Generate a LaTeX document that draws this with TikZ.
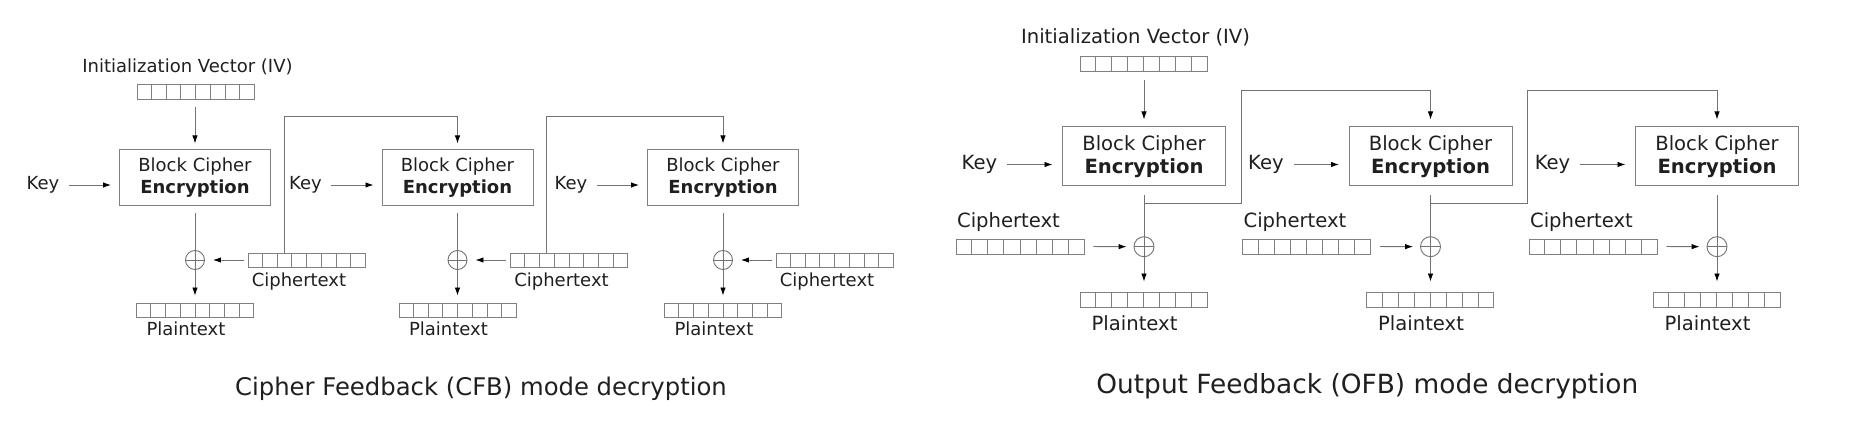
\documentclass[tikz,border=0pt]{standalone}
\usepackage{fontspec}
\setmainfont{DejaVu Sans}
\usetikzlibrary{arrows.meta,calc}
\tikzset{
  ln/.style={draw=black!55, line width=0.9pt},
  arr/.style={ln, -{Latex[length=8pt,width=5.5pt,color=black]}},
  blk/.style={draw=black!50, line width=1pt, inner sep=0pt, align=center, text=black!88},
  regn/.style={draw=black!50, line width=0.9pt, inner sep=0pt},
  lbl/.style={inner sep=0pt, text=black!88},
  xo/.style={circle, draw=black!55, line width=0.9pt, inner sep=0pt},
}
\newcommand{\regcells}[1]{\foreach \k in {1,...,7}{\draw[black!50, line width=0.9pt] ($(#1.north west)!\k/8!(#1.north east)$) -- ($(#1.south west)!\k/8!(#1.south east)$);}}
\begin{document}
\begin{tikzpicture}[x=1pt,y=-1pt]
\useasboundingbox (0,0) rectangle (1853,427);
% ---------------- CFB ----------------
\begin{scope}[font=\fontsize{18}{22}\selectfont]
\node[lbl] (civt) at (187.5,67) {Initialization Vector (IV)};
\node[regn, minimum width=117pt, minimum height=15pt] (civ) at (195.5,91.5) {};
\regcells{civ}
\foreach \i/\c in {1/195,2/457.5,3/723}{
  \node[blk, minimum width=151pt, minimum height=56pt] (cb\i) at (\c,178) {Block Cipher\\\textbf{Encryption}};
  \node[lbl] (ck\i) at (\c-152,185) {Key};
  \node[xo, minimum size=19pt] (cx\i) at (\c,260) {};
  \node[regn, minimum width=117pt, minimum height=14pt] (cc\i) at (\c+111.5,260) {};
  \regcells{cc\i}
  \node[lbl] (cct\i) at (\c+104,282) {Ciphertext};
  \node[regn, minimum width=117pt, minimum height=14pt] (cp\i) at (\c,310) {};
  \regcells{cp\i}
  \node[lbl] (cpt\i) at (\c-9,329) {Plaintext};
  \draw[arr, shorten <=9pt, shorten >=8pt] (ck\i.east) -- (ck\i.east -| cb\i.west);
  \draw[ln, shorten <=7pt] (cb\i.south) -- (cx\i.north);
  \draw[ln] (cx\i.north) -- (cx\i.south);
  \draw[ln] (cx\i.west) -- (cx\i.east);
  \draw[arr, shorten >=7pt] (cx\i.south) -- (cp\i.north);
  \draw[arr, shorten <=4pt, shorten >=8pt] (cc\i.west) -- (cx\i.east);
}
\draw[arr, shorten <=8pt, shorten >=6pt] (cb1.north |- civ.south) -- (cb1.north);
\foreach \i/\j/\c in {1/2/195,2/3/457.5}{
  \coordinate (cf\i) at (\c+89,116);
  \draw[arr, shorten >=6pt] (cf\i |- cc\i.north) -- (cf\i) -| (cb\j.north);
}
\end{scope}
% ---------------- OFB ----------------
\begin{scope}[font=\fontsize{19.6}{23}\selectfont]
\node[lbl] (oivt) at (1135.5,37) {Initialization Vector (IV)};
\node[regn, minimum width=127pt, minimum height=15pt] (oiv) at (1143.5,63.5) {};
\regcells{oiv}
\foreach \i/\c in {1/1144,2/1430.5,3/1717}{
  \node[blk, minimum width=163pt, minimum height=59pt] (ob\i) at (\c,156.5) {Block Cipher\\\textbf{Encryption}};
  \node[lbl] (ok\i) at (\c-164.5,164.5) {Key};
  \node[xo, minimum size=20pt] (ox\i) at (\c,246.7) {};
  \node[lbl] (oct\i) at (\c-135.5,221.7) {Ciphertext};
  \node[regn, minimum width=128pt, minimum height=15pt] (oc\i) at (\c-124,246.5) {};
  \regcells{oc\i}
  \node[regn, minimum width=127pt, minimum height=15pt] (op\i) at (\c-0.5,299.5) {};
  \regcells{op\i}
  \node[lbl] (opt\i) at (\c-9.5,323.5) {Plaintext};
  \draw[arr, shorten <=10pt, shorten >=9.5pt] (ok\i.east) -- (ok\i.east -| ob\i.west);
  \draw[ln, shorten <=9pt] (ob\i.south) -- (ox\i.north);
  \draw[ln] (ox\i.north) -- (ox\i.south);
  \draw[ln] (ox\i.west) -- (ox\i.east);
  \draw[arr, shorten >=10pt] (ox\i.south) -- (ox\i.south |- op\i.north);
  \draw[arr, shorten <=9pt, shorten >=7pt] (oc\i.east) -- (ox\i.west);
}
\draw[arr, shorten <=9pt, shorten >=7pt] (ob1.north |- oiv.south) -- (ob1.north);
\foreach \i/\j/\c in {1/2/1144,2/3/1430.5}{
  \coordinate (obr\i) at (\c,203.5);
  \coordinate (of\i) at (\c+97,90);
  \draw[arr, shorten >=7pt] (obr\i) -| (of\i) -| (ob\j.north);
}
\end{scope}
% ---------------- captions ----------------
\node[lbl, font=\fontsize{24.3}{28}\selectfont] (capc) at (481,389) {Cipher Feedback (CFB) mode decryption};
\node[lbl, font=\fontsize{26.4}{30}\selectfont] (capo) at (1367.3,386.7) {Output Feedback (OFB) mode decryption};
\end{tikzpicture}
\end{document}
